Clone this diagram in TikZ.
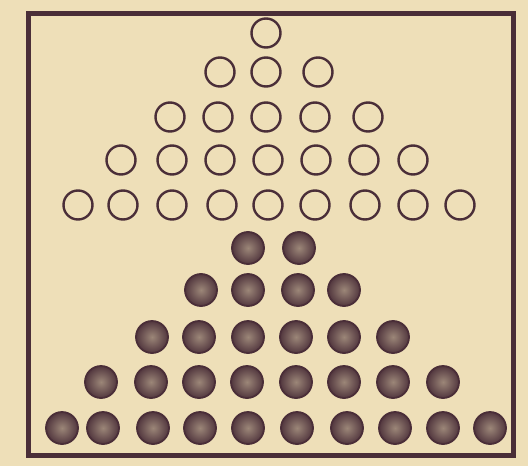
\documentclass[tikz,border=0pt]{standalone}
\begin{document}
\begin{tikzpicture}[x=1pt,y=-1pt,
  opencirc/.style={circle,draw=ink,line width=2.4pt,minimum size=29pt,inner sep=0pt},
  fullcirc/.style={circle,draw=ink,line width=1.8pt,inner color=ink!50!paper,outer color=ink!95!paper,minimum size=32pt,inner sep=0pt},
  framebox/.style={draw=ink,line width=5pt}]
\definecolor{ink}{RGB}{74,46,56}
\definecolor{paper}{RGB}{238,223,184}
\fill[paper] (0,0) rectangle (528,466);
\useasboundingbox (0,0) rectangle (528,466);
\draw[framebox] (28,13) rectangle (513,455);
% open circles (odd numbers)
\foreach \x [count=\i] in {266} \node[opencirc] (oa\i) at (\x,33) {};
\foreach \x [count=\i] in {220,266,318} \node[opencirc] (ob\i) at (\x,72) {};
\foreach \x [count=\i] in {170,218,266,315,368} \node[opencirc] (oc\i) at (\x,117) {};
\foreach \x [count=\i] in {121,172,220,268,316,364,413} \node[opencirc] (od\i) at (\x,160) {};
\foreach \x [count=\i] in {78,123,172,222,268,315,365,413,460} \node[opencirc] (oe\i) at (\x,205) {};
% filled circles (even numbers)
\foreach \x [count=\i] in {248,299} \node[fullcirc] (fa\i) at (\x,248) {};
\foreach \x [count=\i] in {201,248,298,344} \node[fullcirc] (fb\i) at (\x,290) {};
\foreach \x [count=\i] in {152,199,248,296,344,393} \node[fullcirc] (fc\i) at (\x,337) {};
\foreach \x [count=\i] in {101,151,199,247,296,344,393,443} \node[fullcirc] (fd\i) at (\x,382) {};
\foreach \x [count=\i] in {62,103,153,200,248,297,347,395,443,490} \node[fullcirc] (fe\i) at (\x,428) {};
\end{tikzpicture}
\end{document}
